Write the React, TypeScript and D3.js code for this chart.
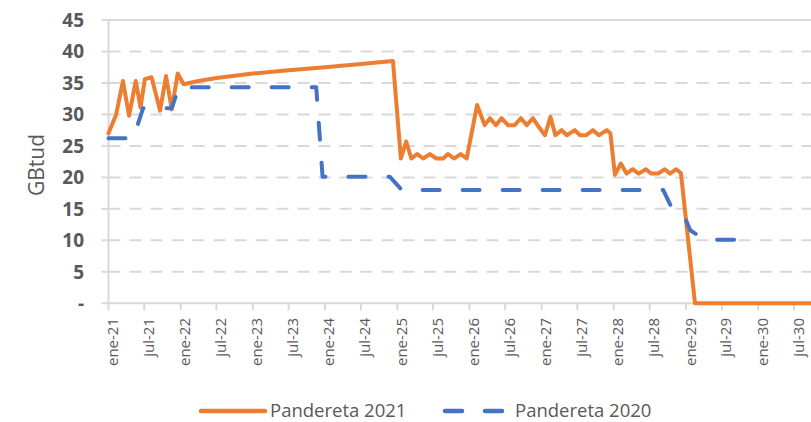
import React from 'react';
import * as d3 from 'd3';

const W = 811;
const H = 422;

// Pandereta 2021 (orange)
const dates2021 = [
  '2021-01-01', '2021-02-09', '2021-03-15', '2021-04-15', '2021-05-19', '2021-06-12',
  '2021-07-04', '2021-08-07', '2021-09-19', '2021-10-19', '2021-11-17', '2021-12-17',
  '2022-01-16', '2022-04-01', '2022-07-01', '2023-01-01', '2023-07-01', '2024-01-01',
  '2024-07-01', '2024-12-10',
  '2025-01-19', '2025-02-15', '2025-03-13', '2025-04-12', '2025-05-12', '2025-06-15',
  '2025-07-18', '2025-08-21', '2025-09-15', '2025-10-15', '2025-11-18', '2025-12-18',
  '2026-02-09', '2026-03-19', '2026-04-15', '2026-05-15', '2026-06-12', '2026-07-15',
  '2026-08-18', '2026-09-18', '2026-10-18', '2026-11-18', '2026-12-18',
  '2027-01-18', '2027-02-15', '2027-03-12', '2027-04-12', '2027-05-09', '2027-06-18',
  '2027-07-15', '2027-08-15', '2027-09-18', '2027-10-18', '2027-11-27', '2027-12-15',
  '2028-01-07', '2028-02-06', '2028-03-06', '2028-04-06', '2028-05-06', '2028-06-12',
  '2028-07-09', '2028-08-12', '2028-09-15', '2028-10-12', '2028-11-12', '2028-12-06',
  '2029-02-15', '2030-12-01',
];
const values2021 = [
  27.0, 30.0, 35.3, 29.8, 35.3, 31.1,
  35.6, 35.9, 30.6, 36.1, 30.8, 36.5,
  34.8, 35.3, 35.8, 36.5, 37.0, 37.5,
  38.0, 38.5,
  23.0, 25.7, 23.0, 23.7, 23.0, 23.7,
  23.0, 23.0, 23.7, 23.0, 23.7, 23.0,
  31.5, 28.3, 29.4, 28.3, 29.4, 28.3,
  28.3, 29.4, 28.3, 29.4, 28.0,
  26.7, 29.6, 26.7, 27.5, 26.7, 27.5,
  26.7, 26.7, 27.5, 26.7, 27.5, 27.0,
  20.4, 22.2, 20.6, 21.3, 20.6, 21.3,
  20.6, 20.6, 21.3, 20.6, 21.3, 20.7,
  0, 0,
];

// Pandereta 2020 (blue, dashed)
const dates2020 = [
  '2021-01-01', '2021-05-06', '2021-06-25', '2021-11-17', '2021-12-23',
  '2023-11-18', '2023-12-20', '2024-11-24', '2025-01-24',
  '2028-09-07', '2028-10-22', '2028-12-28', '2029-01-22', '2029-02-15', '2029-04-07',
  '2029-12-15',
];
const values2020 = [
  26.2, 26.2, 31.0, 31.0, 34.3,
  34.3, 20.1, 20.1, 18.0,
  18.0, 15.1, 13.5, 11.6, 11.1, 10.1,
  10.1,
];

const xTickLabels = [
  'ene-21', 'jul-21', 'ene-22', 'jul-22', 'ene-23', 'jul-23', 'ene-24', 'jul-24',
  'ene-25', 'jul-25', 'ene-26', 'jul-26', 'ene-27', 'jul-27', 'ene-28', 'jul-28',
  'ene-29', 'jul-29', 'ene-30', 'jul-30',
];
const yTickValues = [0, 5, 10, 15, 20, 25, 30, 35, 40, 45];
const yTickLabels = ['-', '5', '10', '15', '20', '25', '30', '35', '40', '45'];
const seriesNames = ['Pandereta 2021', 'Pandereta 2020'];
const yTitle = 'GBtud';

const ORANGE = '#ED7D31';
const BLUE = '#4472C4';
const GRID = '#D9D9D9';
const TEXT = '#595959';
const FONT = '"Open Sans", "Noto Sans", sans-serif';

const parse = d3.timeParse('%Y-%m-%d');

export default function App() {
  const start = parse('2021-01-01') as Date;
  const x = d3
    .scaleTime()
    .domain([start, parse('2030-07-01') as Date])
    .range([108.5, 794]);
  const y = d3.scaleLinear().domain([0, 45]).range([303.3, 20]);

  const line = d3
    .line<[Date, number]>()
    .x((d) => x(d[0]))
    .y((d) => y(d[1]));

  const pts2021: [Date, number][] = dates2021.map((d, i) => [parse(d) as Date, values2021[i]]);
  const pts2020: [Date, number][] = dates2020.map((d, i) => [parse(d) as Date, values2020[i]]);

  const tickDates = xTickLabels.map((_, i) => d3.timeMonth.offset(start, i * 6));
  const x0 = x(start);

  return (
    <svg
      width={W}
      height={H}
      style={{ position: 'absolute', left: 0, top: 0, background: '#fff' }}
      fontFamily={FONT}
    >
      {/* gridlines */}
      {yTickValues.map((v) => (
        <line
          key={'g' + v}
          x1={x0}
          x2={W}
          y1={y(v)}
          y2={y(v)}
          stroke={GRID}
          strokeWidth={2}
          strokeDasharray={v === 45 || v === 0 ? undefined : '12 9'}
        />
      ))}
      {/* y ticks */}
      {yTickValues.map((v) => (
        <line key={'yt' + v} x1={x0 - 7} x2={x0} y1={y(v)} y2={y(v)} stroke={GRID} strokeWidth={2} />
      ))}
      {/* y axis line */}
      <line x1={x0} x2={x0} y1={y(45)} y2={y(0)} stroke={GRID} strokeWidth={2} />
      {/* x ticks */}
      {tickDates.map((d, i) => (
        <line key={'xt' + i} x1={x(d)} x2={x(d)} y1={y(0)} y2={y(0) + 7} stroke={GRID} strokeWidth={2} />
      ))}
      {/* y tick labels */}
      {yTickValues.map((v, i) => (
        <text
          key={'yl' + v}
          x={84}
          y={y(v)}
          dy="0.36em"
          textAnchor="end"
          fontSize={19}
          fontWeight={700}
          fill={TEXT}
        >
          {yTickLabels[i]}
        </text>
      ))}
      {/* x tick labels */}
      {tickDates.map((d, i) => (
        <text
          key={'xl' + i}
          transform={`translate(${x(d) + 9.5},${318}) rotate(-90)`}
          textAnchor="end"
          fontSize={15}
          fill={TEXT}
        >
          {xTickLabels[i]}
        </text>
      ))}
      {/* y title */}
      <text transform={`translate(44,165) rotate(-90)`} textAnchor="middle" fontSize={21} fill={TEXT}>
        {yTitle}
      </text>
      {/* series */}
      <path
        d={line(pts2021) || ''}
        fill="none"
        stroke={ORANGE}
        strokeWidth={4}
        strokeLinejoin="round"
        strokeLinecap="round"
      />
      <path
        d={line(pts2020) || ''}
        fill="none"
        stroke={BLUE}
        strokeWidth={4}
        strokeLinejoin="round"
        strokeLinecap="round"
        strokeDasharray="17 23"
      />
      {/* legend */}
      <line x1={201} x2={265} y1={411} y2={411} stroke={ORANGE} strokeWidth={4.5} strokeLinecap="round" />
      <text x={270} y={417} fontSize={18.5} fill={TEXT}>
        {seriesNames[0]}
      </text>
      <line
        x1={445}
        x2={504}
        y1={411}
        y2={411}
        stroke={BLUE}
        strokeWidth={4.5}
        strokeLinecap="round"
        strokeDasharray="17 23"
      />
      <text x={515} y={417} fontSize={18.5} fill={TEXT}>
        {seriesNames[1]}
      </text>
    </svg>
  );
}
